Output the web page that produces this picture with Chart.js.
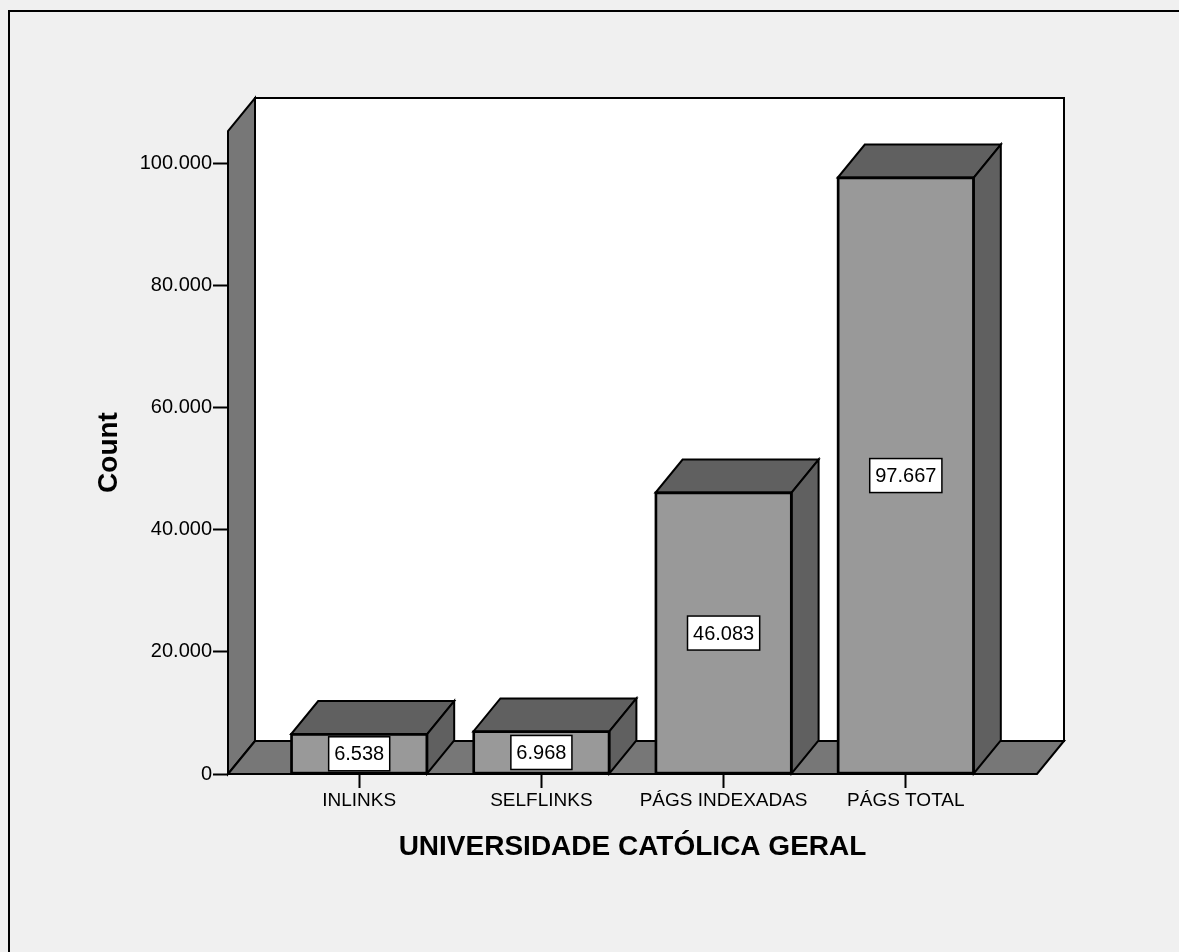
<!DOCTYPE html>
<html>
<head>
<meta charset="utf-8">
<script src="https://cdn.jsdelivr.net/npm/chart.js@4"></script>
<style>
    html, body { margin: 0; padding: 0; background: #f0f0f0; }
    canvas { display: block; }
</style>
</head>
<body>
<canvas id="countChart" width="1179" height="952"></canvas>
<script>
// --- Data ---
const categories = ['INLINKS', 'SELFLINKS', 'PÁGS INDEXADAS', 'PÁGS TOTAL'];
const counts = [6538, 6968, 46083, 97667];
const yTicks = [0, 20000, 40000, 60000, 80000, 100000];
const yMax = 105300;
const xTitle = 'UNIVERSIDADE CATÓLICA GERAL';
const yTitle = 'Count';

// --- Look ---
const FONT = '"Liberation Sans", Arial, sans-serif';
const DEPTH = { dx: 27, dy: -33 };    // 3D offset of walls and bars
const WALL = '#777777';
const FRONT = '#999999';
const SHADE = '#606060';

// thousands with a dot, like 100.000
function fmt(v) {
    return String(Math.round(v)).replace(/\B(?=(\d{3})+(?!\d))/g, '.');
}

function poly(ctx, pts, fill) {
    ctx.beginPath();
    ctx.moveTo(pts[0][0], pts[0][1]);
    for (let i = 1; i < pts.length; i++) ctx.lineTo(pts[i][0], pts[i][1]);
    ctx.closePath();
    ctx.fillStyle = fill;
    ctx.fill();
    ctx.stroke();
}

// --- Plugin: page frame, 3D walls, bar tops/sides, value boxes ---
const spss3d = {
    id: 'spss3d',
    beforeDraw(chart) {
        const ctx = chart.ctx;
        ctx.save();
        ctx.fillStyle = '#f0f0f0';
        ctx.fillRect(0, 0, chart.width, chart.height);
        ctx.strokeStyle = '#000';
        ctx.lineWidth = 2;
        ctx.strokeRect(9, 11, chart.width + 20, chart.height + 20);
        ctx.restore();
    },
    beforeDatasetsDraw(chart) {
        const { ctx, chartArea: a } = chart;
        const { dx, dy } = DEPTH;
        ctx.save();
        ctx.strokeStyle = '#000';
        ctx.lineWidth = 2;
        // back wall
        poly(ctx, [[a.left + dx, a.top + dy], [a.right + dx, a.top + dy],
                   [a.right + dx, a.bottom + dy], [a.left + dx, a.bottom + dy]], '#ffffff');
        // left wall
        poly(ctx, [[a.left, a.bottom], [a.left, a.top], [a.left + dx, a.top + dy],
                   [a.left + dx, a.bottom + dy]], WALL);
        // floor
        poly(ctx, [[a.left, a.bottom], [a.right, a.bottom], [a.right + dx, a.bottom + dy],
                   [a.left + dx, a.bottom + dy]], WALL);
        ctx.restore();
    },
    afterDatasetsDraw(chart) {
        const ctx = chart.ctx;
        const { dx, dy } = DEPTH;
        const bars = chart.getDatasetMeta(0).data;
        ctx.save();
        ctx.strokeStyle = '#000';
        ctx.lineWidth = 2;
        bars.forEach((bar, i) => {
            const p = bar.getProps(['x', 'y', 'base', 'width'], true);
            const l = p.x - p.width / 2, r = p.x + p.width / 2;
            // top face
            poly(ctx, [[l, p.y], [r, p.y], [r + dx, p.y + dy], [l + dx, p.y + dy]], SHADE);
            // right side face
            poly(ctx, [[r, p.y], [r, p.base], [r + dx, p.base + dy], [r + dx, p.y + dy]], SHADE);
            // front outline again so edges stay crisp
            ctx.strokeRect(l, p.y, r - l, p.base - p.y);

            // value box in the middle of the front face
            const txt = fmt(counts[i]);
            ctx.font = '20px ' + FONT;
            const w = ctx.measureText(txt).width + 11;
            const h = 34;
            const cy = (p.y + p.base) / 2;
            ctx.fillStyle = '#ffffff';
            ctx.lineWidth = 1.5;
            ctx.fillRect(p.x - w / 2, cy - h / 2, w, h);
            ctx.strokeRect(p.x - w / 2, cy - h / 2, w, h);
            ctx.lineWidth = 2;
            ctx.fillStyle = '#000';
            ctx.textAlign = 'center';
            ctx.textBaseline = 'middle';
            ctx.fillText(txt, p.x, cy + 1);
        });
        ctx.restore();
    }
};

// --- Chart ---
const ctx = document.getElementById('countChart').getContext('2d');
new Chart(ctx, {
    type: 'bar',
    data: {
        datasets: [{
            label: yTitle,
            data: counts.map((v, i) => ({ x: i, y: v })),
            backgroundColor: FRONT,
            borderColor: '#000',
            borderWidth: 2,
            borderSkipped: false,
            barThickness: 136
        }]
    },
    options: {
        responsive: false,
        animation: false,
        layout: { padding: { left: 0, top: 131, right: 142, bottom: 0 } },
        plugins: {
            legend: { display: false },
            tooltip: { enabled: false }
        },
        scales: {
            x: {
                type: 'linear',
                min: -0.72,
                max: 3.72,
                offset: false,
                afterFit: axis => { axis.height = 178; },
                afterBuildTicks: axis => { axis.ticks = categories.map((c, i) => ({ value: i })); },
                border: { display: false },
                grid: {
                    offset: false,
                    drawOnChartArea: false,
                    drawTicks: true,
                    tickLength: 14,
                    tickWidth: 2,
                    tickColor: '#000'
                },
                ticks: {
                    autoSkip: false,
                    maxRotation: 0,
                    padding: 1,
                    color: '#000',
                    font: { family: FONT, size: 19 },
                    callback: value => categories[value]
                },
                title: {
                    display: true,
                    text: xTitle,
                    color: '#000',
                    font: { family: FONT, size: 28, weight: 'bold' },
                    padding: { top: 0, bottom: 88 }
                }
            },
            y: {
                min: 0,
                max: yMax,
                afterFit: axis => { axis.width = 228; },
                afterBuildTicks: axis => { axis.ticks = yTicks.map(v => ({ value: v })); },
                border: { display: false },
                grid: {
                    drawOnChartArea: false,
                    drawTicks: true,
                    tickLength: 15,
                    tickWidth: 2,
                    tickColor: '#000'
                },
                ticks: {
                    padding: 1,
                    color: '#000',
                    font: { family: FONT, size: 20 },
                    callback: value => fmt(value)
                },
                title: {
                    display: true,
                    text: yTitle,
                    color: '#000',
                    font: { family: FONT, size: 28, weight: 'bold' },
                    padding: { top: 92, bottom: 0 }
                }
            }
        }
    },
    plugins: [spss3d]
});
</script>
</body>
</html>
